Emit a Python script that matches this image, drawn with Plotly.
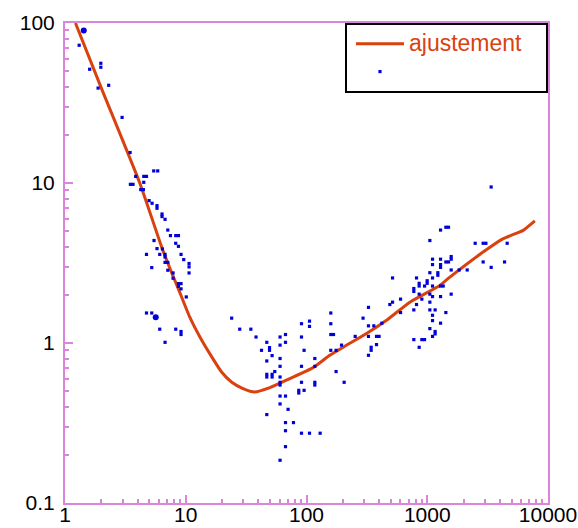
import plotly.graph_objects as go

# Fitted curve ("ajustement")
fit_x = [1.22, 2.0, 4.16, 6.4, 7.6, 8.9, 10.8, 13.1, 15.8, 19.8, 23.9, 29.8, 37.3, 49.7,
         72.7, 113.5, 156, 214, 314, 460, 718, 1271, 1540, 2900, 4260, 6230, 7780]
fit_y = [100, 39.2, 10, 3.87, 2.78, 2.08, 1.45, 1.09, 0.858, 0.659, 0.571, 0.519, 0.494, 0.526,
         0.599, 0.702, 0.838, 0.967, 1.145, 1.387, 1.80, 2.29, 2.58, 3.7, 4.49, 5.06, 5.79]

# Measured points
scatter_x = [
    1.31, 1.60, 1.98, 1.98, 1.88, 2.30, 2.97,
    3.46, 5.43, 5.86, 3.85, 4.49, 4.73, 4.49, 3.48, 3.66, 4.24, 4.46, 4.97, 5.26, 5.78, 5.78,
    6.36, 6.36, 6.74, 7.10, 7.47, 8.26, 8.70, 5.46, 8.26, 8.70, 5.78, 6.41, 4.73, 6.09, 6.74,
    9.14, 6.74, 9.62, 6.74, 7.10, 10.65, 10.65, 5.23, 7.10, 10.65, 7.85, 7.85, 8.70, 9.14,
    8.70, 9.14, 10.1, 4.73, 5.23, 6.09, 8.26, 9.14, 9.14, 6.74, 24.0, 28.0,
    34.6, 38.2, 46.9, 42.4, 49.4, 49.4, 51.9, 46.9, 60.4, 67.0, 67.0, 60.4, 60.4, 60.4, 54.6,
    46.9, 46.9, 51.9, 51.9, 60.4, 60.4, 60.4, 60.4, 67.0, 60.4, 70.4, 46.9, 67.0, 78.0, 67.0,
    90.9, 105.9, 129.7, 67.0, 60.4, 90.9, 105.9, 105.9, 90.9, 95.5, 90.9, 90.9, 86.3, 86.3,
    95.5, 117.2, 117.2, 117.2, 117.2, 158.9, 158.9, 158.9, 167.4, 158.9, 175.8, 195.0, 175.8,
    205,
    3383, 1426, 1500, 1289, 1051, 2494, 2904, 3059, 4590, 1106, 1289, 1578, 1578, 1426, 1500,
    2904, 4367, 1106, 1289, 1289, 3383, 1578, 1837, 2142, 1051, 1224, 1224, 1106, 516, 815,
    998, 998, 857, 857, 950, 1106, 1289, 1355, 774, 774, 857, 1051, 1106, 1289, 1578, 601,
    902, 490, 516, 815, 1051, 326, 774, 1051, 1162, 601, 1426, 294, 1106, 1106, 421, 1289,
    326, 361, 1051, 1162, 1162, 1106, 253, 326, 380, 399, 774, 902, 950, 380, 343, 343, 857,
    326,
]
scatter_y = [
    72.6, 51.4, 56.0, 52.9, 39.2, 40.8, 25.7,
    15.5, 11.9, 11.9, 11.0, 11.0, 11.0, 10.1, 9.81, 9.81, 9.09, 9.09, 7.76, 7.47, 7.22, 6.95,
    6.40, 6.17, 5.93, 5.08, 4.69, 4.69, 4.69, 4.37, 4.20, 4.02, 3.89, 3.87, 3.58, 3.58, 3.58,
    3.58, 3.45, 3.32, 3.19, 3.19, 3.14, 2.99, 2.96, 2.85, 2.74, 2.74, 2.54, 2.35, 2.35,
    2.26, 2.18, 1.94, 1.54, 1.54, 1.22, 1.22, 1.18, 1.13, 1.01, 1.43, 1.22,
    1.22, 1.09, 1.01, 0.90, 0.936, 0.90, 0.834, 0.772, 1.09, 1.13, 1.01, 0.97, 0.80, 0.715, 0.663,
    0.637, 0.613, 0.637, 0.613, 0.613, 0.568, 0.546, 0.466, 0.466, 0.416, 0.385, 0.357, 0.318, 0.318, 0.283,
    0.273, 0.273, 0.273, 0.225, 0.185, 1.32, 1.37, 1.27, 1.09, 0.90, 0.715, 0.568, 0.506, 0.487,
    0.506, 0.80, 0.715, 0.568, 0.546, 1.54, 1.32, 1.13, 1.13, 0.90, 0.90, 0.97, 0.663,
    0.568,
    9.44, 5.29, 5.29, 5.08, 4.37, 4.20, 4.20, 4.20, 4.20, 3.34, 3.34, 3.47, 3.34, 3.21, 3.21,
    3.21, 3.21, 3.09, 3.09, 2.97, 2.97, 2.86, 2.86, 2.86, 2.75, 2.75, 2.65, 2.55, 2.55, 2.55,
    2.45, 2.36, 2.36, 2.27, 2.27, 2.27, 2.27, 2.27, 2.19, 2.10, 2.02, 2.02, 1.95, 1.95, 2.02, 1.88,
    1.88, 1.74, 1.80, 1.74, 1.80, 1.67, 1.61, 1.61, 1.61, 1.55, 1.55, 1.43, 1.49, 1.38, 1.33, 1.33,
    1.28, 1.28, 1.23, 1.18, 1.14, 1.10, 1.10, 1.10, 1.10, 1.10, 1.05, 1.05, 1.05, 0.977, 0.94, 0.90, 0.94,
    0.838,
]
# Larger points
big_x = [1.43, 5.64]
big_y = [89.7, 1.45]

# Axis tick labels (decades)
x_tick_vals = [1, 10, 100, 1000, 10000]
x_tick_labels = ["1", "10", "100", "1000", "10000"]
y_tick_vals = [0.1, 1, 10, 100]
y_tick_labels = ["0.1", "1", "10", "100"]

LINE_COLOR = "#D9420F"
DOT_COLOR = "#0000D8"
AXIS_COLOR = "#DA84DA"
FONT = "Liberation Sans, Arial, sans-serif"

fig = go.Figure()
fig.add_trace(go.Scatter(x=fit_x, y=fit_y, mode="lines",
                         name="<span style='font-size:23px'>ajustement\u00a0\u00a0\u00a0</span>",
                         line=dict(color=LINE_COLOR, width=3, shape="spline", smoothing=0.5)))
fig.add_trace(go.Scatter(x=scatter_x, y=scatter_y, mode="markers", name="",
                         marker=dict(color=DOT_COLOR, size=3.2, symbol="square", line=dict(width=0))))
fig.add_trace(go.Scatter(x=big_x, y=big_y, mode="markers", showlegend=False,
                         marker=dict(color=DOT_COLOR, size=6, symbol="circle", line=dict(width=0))))
# invisible carrier so the major-tick overlay axes get drawn
fig.add_trace(go.Scatter(x=fit_x, y=fit_y, xaxis="x2", yaxis="y2", mode="lines",
                         line=dict(width=0), opacity=0, showlegend=False, hoverinfo="skip"))


def with_minors(decades):
    vals, texts = [], []
    for i, d in enumerate(decades):
        vals.append(d)
        texts.append(None)
        if i < len(decades) - 1:
            for m in range(2, 10):
                vals.append(m * d)
                texts.append("")
    return vals, texts


xv, xt = with_minors(x_tick_vals)
xt = [x_tick_labels[x_tick_vals.index(v)] if t is None else t for v, t in zip(xv, xt)]
yv, yt = with_minors(y_tick_vals)
yt = [y_tick_labels[y_tick_vals.index(v)] if t is None else t for v, t in zip(yv, yt)]

axis_common = dict(
    type="log", showline=True, linecolor=AXIS_COLOR, linewidth=2, mirror=True,
    ticks="inside", ticklen=4, tickwidth=2, tickcolor=AXIS_COLOR, tickmode="array",
    showgrid=False, zeroline=False, automargin=False, ticklabeloverflow="allow",
    tickfont=dict(family=FONT, size=21, color="black"),
)
major_common = dict(
    type="log", showline=False, showgrid=False, zeroline=False, automargin=False,
    ticks="inside", ticklen=8, tickwidth=2, tickcolor=AXIS_COLOR,
    showticklabels=False, tickmode="array",
)

fig.update_layout(
    width=578, height=528,
    margin=dict(l=65, r=30, t=23, b=25),
    paper_bgcolor="white", plot_bgcolor="white",
    xaxis=dict(range=[0, 4], tickvals=xv, ticktext=xt, ticklabelstandoff=-8, **axis_common),
    yaxis=dict(range=[-1, 2], tickvals=yv, ticktext=yt, ticklabelstandoff=4, **axis_common),
    xaxis2=dict(range=[0, 4], overlaying="x", anchor="y", side="bottom", tickvals=x_tick_vals, **major_common),
    yaxis2=dict(range=[-1, 2], overlaying="y", anchor="x", side="left", tickvals=y_tick_vals, **major_common),
    legend=dict(x=1, y=1, xanchor="right", yanchor="top",
                bgcolor="white", bordercolor="black", borderwidth=2,
                font=dict(family=FONT, size=19, color=LINE_COLOR),
                itemwidth=48, indentation=4, tracegroupgap=0),
)

fig.write_html("out.html")
